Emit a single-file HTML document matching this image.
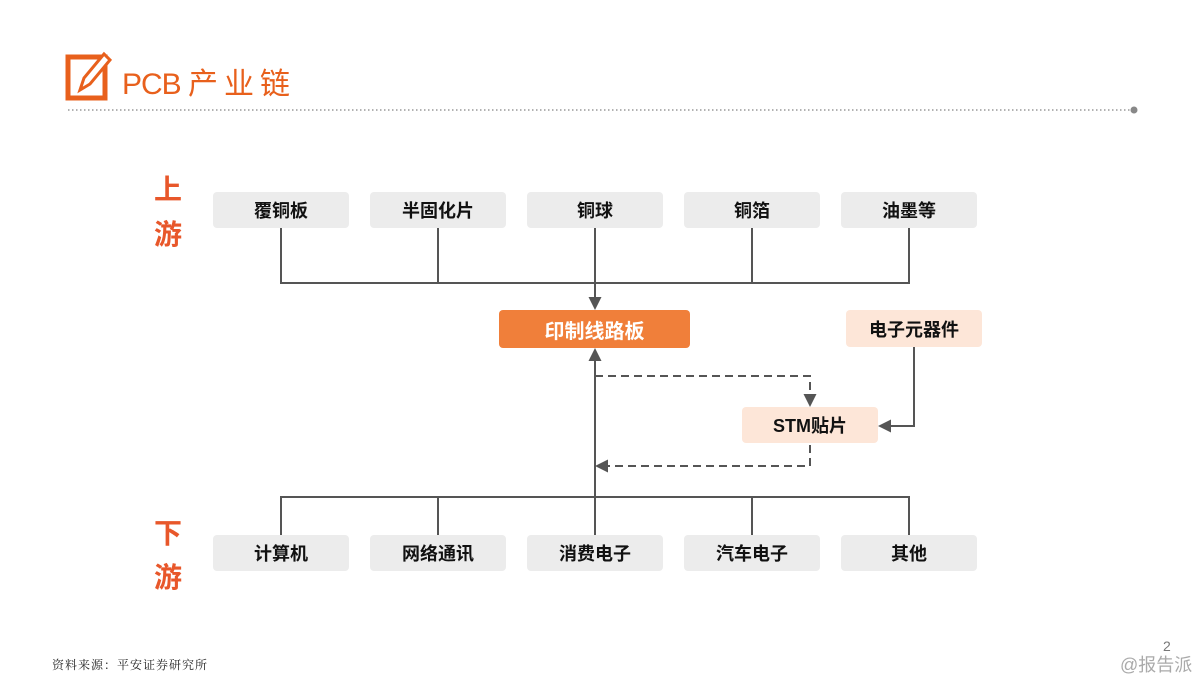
<!DOCTYPE html>
<html><head><meta charset="utf-8"><style>
body{margin:0;width:1200px;height:675px;background:#fff;position:relative;overflow:hidden;font-family:"Liberation Sans","Noto Sans CJK SC",sans-serif}
.b{position:absolute;width:136px;height:36px;background:#ececec;border-radius:4px;display:flex;align-items:center;justify-content:center;font-size:18px;font-weight:bold;color:#111}
.l{position:absolute;color:#e8572a;font-size:28px;font-weight:bold;left:154px}
</style></head><body>
<svg width="1200" height="675" style="position:absolute;left:0;top:0">
<defs><marker id="a" markerWidth="14" markerHeight="14" refX="11" refY="6.5" orient="auto" markerUnits="userSpaceOnUse"><path d="M0,0L13,6.5L0,13z" fill="#555"/></marker></defs>
<rect x="68" y="57" width="37" height="41" fill="none" stroke="#e8601c" stroke-width="5"/>
<path d="M80,90 L84,78 L104,54 L110,60 L90,84 Z" fill="#fff" stroke="#e8601c" stroke-width="3"/>
<line x1="68" y1="110" x2="1132" y2="110" stroke="#999" stroke-width="1.5" stroke-dasharray="1.5 2.5"/>
<circle cx="1134" cy="110" r="3.5" fill="#888"/>
<g stroke="#555" stroke-width="2" fill="none">
<path d="M281,228V283H909V228M438,228V283M752,228V283"/>
<path d="M595,228V308" marker-end="url(#a)"/>
<path d="M595,535V497V350" marker-end="url(#a)"/>
<path d="M281,535V497H909V535M438,535V497M752,535V497"/>
<path d="M914,347V426H880" marker-end="url(#a)"/>
<path d="M595,376H810V405" stroke-dasharray="8 5" marker-end="url(#a)"/>
<path d="M810,445V466H597" stroke-dasharray="8 5" marker-end="url(#a)"/>
</g>
</svg>
<div style="position:absolute;left:122px;top:59px;font-size:30px;color:#e8601c;letter-spacing:-1px">PCB <span style="letter-spacing:6px">产业链</span></div>
<div class="b" style="left:213px;top:192px">覆铜板</div>
<div class="b" style="left:370px;top:192px">半固化片</div>
<div class="b" style="left:527px;top:192px">铜球</div>
<div class="b" style="left:684px;top:192px">铜箔</div>
<div class="b" style="left:841px;top:192px">油墨等</div>
<div class="b" style="left:499px;top:310px;width:191px;height:38px;background:#f07f3a;color:#fff;font-size:20px">印制线路板</div>
<div class="b" style="left:846px;top:310px;height:37px;background:#fde6d8">电子元器件</div>
<div class="b" style="left:742px;top:407px;background:#fde6d8">STM贴片</div>
<div class="b" style="left:213px;top:535px">计算机</div>
<div class="b" style="left:370px;top:535px">网络通讯</div>
<div class="b" style="left:527px;top:535px">消费电子</div>
<div class="b" style="left:684px;top:535px">汽车电子</div>
<div class="b" style="left:841px;top:535px">其他</div>
<div class="l" style="top:168px">上</div><div class="l" style="top:213px">游</div>
<div class="l" style="top:512px">下</div><div class="l" style="top:556px">游</div>
<div style="position:absolute;left:52px;top:656px;font-size:12px;color:#222;letter-spacing:1px;font-family:'Noto Serif CJK SC',serif">资料来源：平安证券研究所</div>
<div style="position:absolute;left:1163px;top:638px;font-size:14px;color:#777">2</div>
<div style="position:absolute;left:1120px;top:651px;font-size:18px;color:#aaa">@报告派</div>
</body></html>
